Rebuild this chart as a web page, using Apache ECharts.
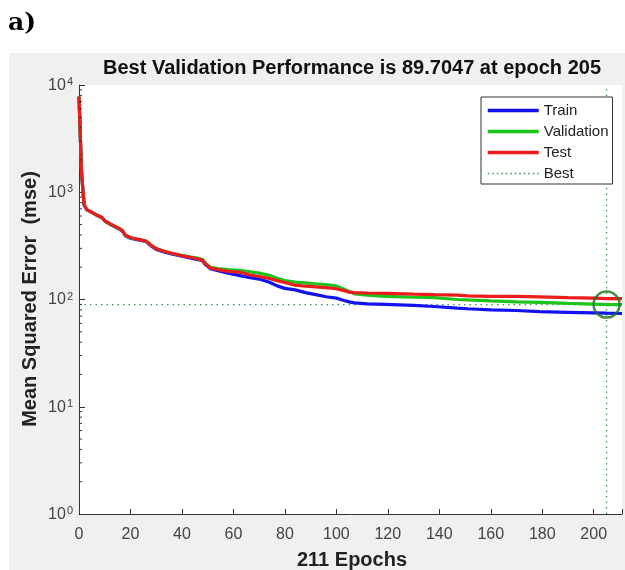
<!DOCTYPE html>
<html>
<head>
<meta charset="utf-8">
<script src="https://cdn.jsdelivr.net/npm/echarts@6/dist/echarts.min.js"></script>
<style>html,body{margin:0;padding:0;background:#fff;}#c{width:625px;height:570px;}</style>
</head>
<body>
<div id="c"></div>
<script>
// ---- data ----
const epochs = [0,1,2,3,5,7,9,10,12,14,16,17,18,20,22,24,26,27,28,30,33,36,40,43,46,48,49,51,54,58,63,66,70,74,77,80,84,88,92,96,100,103,105,107,112,119,130,138,147,151,160,170,179,190,200,205,211];
const trainMSE = [7800,1500,760,690,650,608,578,538,503,476,448,430,393,373,363,356,347,333,316,293,278,266,254,244,236,230,213,194,186,176,166,161,155,145,134,127,123,116,111,106,103,98,95,93,91,90,88,86,83,82,80,79,77,76,75,74.5,74];
const validMSE = [7800,1500,760,690,650,610,580,541,506,479,452,434,397,377,367,360,351,337,320,297,282,270,258,250,243,236,220,200,194,190,186,182,176,168,158,150,145,143,140,138,134,125,119,113,110,107,105,104,100,99,97,95,94,92,90.5,89.7047,89.5];
const testMSE = [7800,1500,760,690,650,610,582,545,510,480,455,435,398,378,368,360,350,338,320,298,282,270,256,248,240,233,216,197,190,183,179,170,164,157,150,144,136,133,131,129,126,121,117,116,115,114,112,111,110,108,107,107,106,104,103,102,102];
const bestEpoch = 205;
const bestValue = 89.7047;
const xTicks = [0,20,40,60,80,100,120,140,160,180,200];
const minorTickValues = [2,3,4,5,6,7,8,9,20,30,40,50,60,70,80,90,200,300,400,500,600,700,800,900,2000,3000,4000,5000,6000,7000,8000,9000];
const legendNames = ['Train','Validation','Test','Best'];

const font = '"Liberation Sans", Arial, sans-serif';
const zip = (xs, ys) => xs.map((x, i) => [x, ys[i]]);

const chart = echarts.init(document.getElementById('c'), null, {renderer: 'canvas'});
const GL = 79, GT = 85, GB = 56;
const colors = {Train: '#1212f0', Validation: '#1ec41e', Test: '#ec1c1c', Best: '#3f9a4f'};

chart.setOption({
  animation: false,
  backgroundColor: '#ffffff',
  textStyle: {fontFamily: font},
  graphic: [
    {type: 'rect', z: -10, silent: true, shape: {x: 9, y: 53, width: 620, height: 520}, style: {fill: '#f0f0f0'}},
    {type: 'text', z: 10, left: 8, top: 11, style: {text: 'a)', fontFamily: '"DejaVu Serif", "Liberation Serif", serif', fontWeight: 'bold', fontSize: 25, fill: '#000'}},
    {type: 'text', z: 10, x: 352, y: 68, style: {text: 'Best Validation Performance is 89.7047 at epoch 205', fontFamily: font, fontWeight: 'bold', fontSize: 20, fill: '#111', align: 'center', verticalAlign: 'middle'}},
    {type: 'text', z: 10, x: 352, y: 560, style: {text: '211 Epochs', fontFamily: font, fontWeight: 'bold', fontSize: 20, fill: '#222', align: 'center', verticalAlign: 'middle'}},
    {type: 'text', z: 10, x: 30, y: 299, rotation: Math.PI / 2, style: {text: 'Mean Squared Error  (mse)', fontFamily: font, fontWeight: 'bold', fontSize: 20, fill: '#222', align: 'center', verticalAlign: 'middle'}}
  ],
  grid: {left: GL, right: 0, top: GT, bottom: GB, show: true, backgroundColor: '#ffffff', borderWidth: 0},
  legend: {
    data: legendNames.map(n => n === 'Best'
      ? {name: n, lineStyle: {width: 1.3, color: colors[n], type: [1.5, 3]}}
      : {name: n, lineStyle: {width: 3.5, color: colors[n]}}),
    orient: 'vertical',
    left: 481, top: 97,
    padding: [6, 4, 3, 5],
    itemGap: 6,
    itemWidth: 51, itemHeight: 14,
    itemStyle: {opacity: 0},
    backgroundColor: '#ffffff',
    borderColor: '#333', borderWidth: 1, borderRadius: 0,
    textStyle: {fontFamily: font, fontSize: 15, color: '#222'},
    selectedMode: false
  },
  xAxis: {
    type: 'value', min: 0, max: 211, interval: 20,
    axisLine: {show: true, lineStyle: {color: '#333', width: 1}},
    axisTick: {show: true, inside: true, length: 5, lineStyle: {color: '#333'}},
    axisLabel: {margin: 13, fontSize: 16, color: '#444', fontFamily: font,
      formatter: v => xTicks.includes(v) ? String(v) : ''},
    splitLine: {show: false}
  },
  yAxis: {
    type: 'log', logBase: 10, min: 1, max: 10000, splitNumber: 4,
    axisLine: {show: true, onZero: false, lineStyle: {color: '#333', width: 1}},
    axisTick: {show: true, inside: true, length: 6, lineStyle: {color: '#333'}},
    axisLabel: {
      margin: 6, fontSize: 16, color: '#444', fontFamily: font,
      formatter: v => '{b|10}{s|' + Math.round(Math.log10(v)) + '}',
      rich: {
        b: {fontSize: 16, color: '#444', fontFamily: font, verticalAlign: 'bottom', lineHeight: 17},
        s: {fontSize: 11, color: '#444', fontFamily: font, verticalAlign: 'top', lineHeight: 17, padding: [0, 0, 7, 1]}
      }
    },
    splitLine: {show: false}
  },
  series: [
    {name: 'Train', type: 'line', data: zip(epochs, trainMSE), showSymbol: false, symbol: 'none', lineStyle: {color: colors.Train, width: 3.2}, itemStyle: {color: colors.Train}, z: 3},
    {name: 'Validation', type: 'line', data: zip(epochs, validMSE), showSymbol: false, symbol: 'none', lineStyle: {color: colors.Validation, width: 3.2}, itemStyle: {color: colors.Validation}, z: 4},
    {name: 'Test', type: 'line', data: zip(epochs, testMSE), showSymbol: false, symbol: 'none', lineStyle: {color: colors.Test, width: 3.2}, itemStyle: {color: colors.Test}, z: 5},
    {name: 'Best', type: 'line', data: [[0, bestValue], [211, bestValue]], showSymbol: false, symbol: 'none', lineStyle: {color: colors.Best, width: 1.3, type: [1.5, 4]}, itemStyle: {color: colors.Best}, z: 2},
    {name: 'Best', type: 'line', data: [[bestEpoch, 1], [bestEpoch, 10000]], showSymbol: false, symbol: 'none', lineStyle: {color: colors.Best, width: 1.3, type: [1.5, 4]}, itemStyle: {color: colors.Best}, z: 2},
    {name: 'bestCircle', type: 'scatter', data: [[bestEpoch, bestValue]], symbol: 'circle', symbolSize: 26,
      itemStyle: {color: 'rgba(0,0,0,0)', borderColor: '#19731f', borderWidth: 2.5}, z: 6, silent: true},
    {name: 'minorTicks', type: 'custom', data: minorTickValues.map(v => [0, v]), silent: true, z: 7,
      renderItem: (params, api) => {
        const p = api.coord([api.value(0), api.value(1)]);
        return {type: 'line', shape: {x1: p[0], y1: p[1], x2: p[0] + 3, y2: p[1]}, style: {stroke: '#333', lineWidth: 1}};
      }}
  ]
});
</script>
</body>
</html>
